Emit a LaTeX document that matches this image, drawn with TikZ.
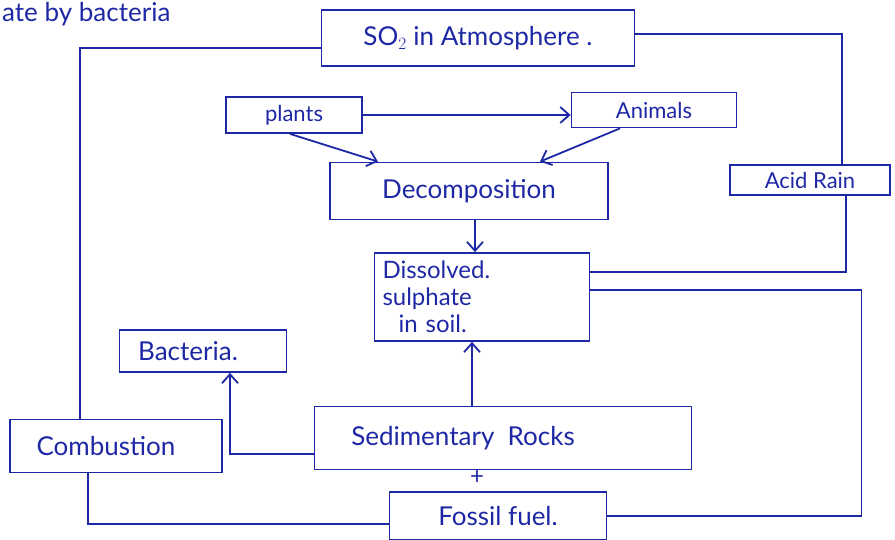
\documentclass[tikz,border=0pt]{standalone}
\usepackage{fontspec}
\setmainfont{Lato}
\usetikzlibrary{arrows.meta, positioning, calc}
\definecolor{ink}{RGB}{30,40,165}

\begin{document}
\begin{tikzpicture}[x=1pt, y=-1pt, color=ink]
    % Define styles
    \tikzstyle{box} = [rectangle, draw=ink, line width=1.8pt, inner sep=4pt, font=\fontsize{26}{30}\selectfont]
    \tikzstyle{flow} = [draw=ink, line width=1.8pt, -{Straight Barb[length=9pt, width=16pt]}]
    \tikzstyle{link} = [draw=ink, line width=1.8pt]

    \useasboundingbox (0,0) rectangle (895,540);

    % Note cut at the top
    \node[anchor=west, inner sep=0pt, font=\fontsize{26}{30}\selectfont] (note) at (2,14) {ate by bacteria};

    % Atmosphere
    \node[box, minimum width=313pt, minimum height=56pt] (atm) at (478,38) {SO$_2$ in Atmosphere .};

    % Living things
    \node[box, minimum width=136pt, minimum height=36pt, font=\fontsize{22}{26}\selectfont] (plants) at (294,115) {plants};
    \node[box, minimum width=165pt, minimum height=35pt, font=\fontsize{22}{26}\selectfont] (animals) at (654,110) {Animals};
    \node[box, minimum width=278pt, minimum height=57pt] (decomp) at (469,191) {Decomposition};
    \node[box, minimum width=160pt, minimum height=30pt, font=\fontsize{22}{26}\selectfont] (acid) at (810,180) {Acid Rain};

    % Soil
    \node[box, text width=199pt, inner sep=8pt, minimum height=85pt, align=left,
          font=\fontsize{24}{27}\selectfont] (dissolved) at (482,297)
          {Dissolved.\\sulphate\\\hspace*{16pt}in soil.};

    % Lower part
    \node[box, minimum width=167pt, minimum height=42pt] (bacteria) at (203,351) {Bacteria.\hspace*{30pt}};
    \node[box, minimum width=212pt, minimum height=53pt] (combustion) at (116,446) {Combustion\hspace*{20pt}};
    \node[box, minimum width=377pt, minimum height=63pt] (sedim) at (503,438) {Sedimentary\ \ Rocks\hspace*{80pt}};
    \node[font=\fontsize{24}{26}\selectfont, inner sep=0pt] (plus) at (477,478) {+};
    \node[box, minimum width=217pt, minimum height=48pt] (fossil) at (498,516) {Fossil fuel.};

    % Arrows
    \draw[flow] (plants.east) -- (animals.west |- plants.east);
    \draw[flow] ([xshift=-4pt]plants.south) -- ([xshift=-91pt]decomp.north);
    \draw[flow] ([xshift=-34pt]animals.south) -- ([xshift=71pt]decomp.north);
    \draw[flow] ([xshift=6pt]decomp.south) -- ([xshift=6pt]decomp.south |- dissolved.north);
    \draw[flow] ([xshift=-31pt]sedim.north) -- ([xshift=-31pt]sedim.north |- dissolved.south);
    \draw[flow] ([yshift=-16pt]sedim.west) -| ([xshift=27pt]bacteria.south);

    % Lines
    \draw[link] ([xshift=-36pt]combustion.north) |- ([yshift=-10pt]atm.west);
    \draw[link] ([yshift=4pt]atm.east) -| ([xshift=32pt]acid.north);
    \draw[link] ([xshift=36pt]acid.south) |- ([yshift=25pt]dissolved.east);
    \draw[link] ([yshift=7pt]dissolved.east) -| ([xshift=254pt]fossil.east) -- (fossil.east);
    \draw[link] ([xshift=-28pt]combustion.south) |- ([yshift=-8pt]fossil.west);
\end{tikzpicture}
\end{document}
